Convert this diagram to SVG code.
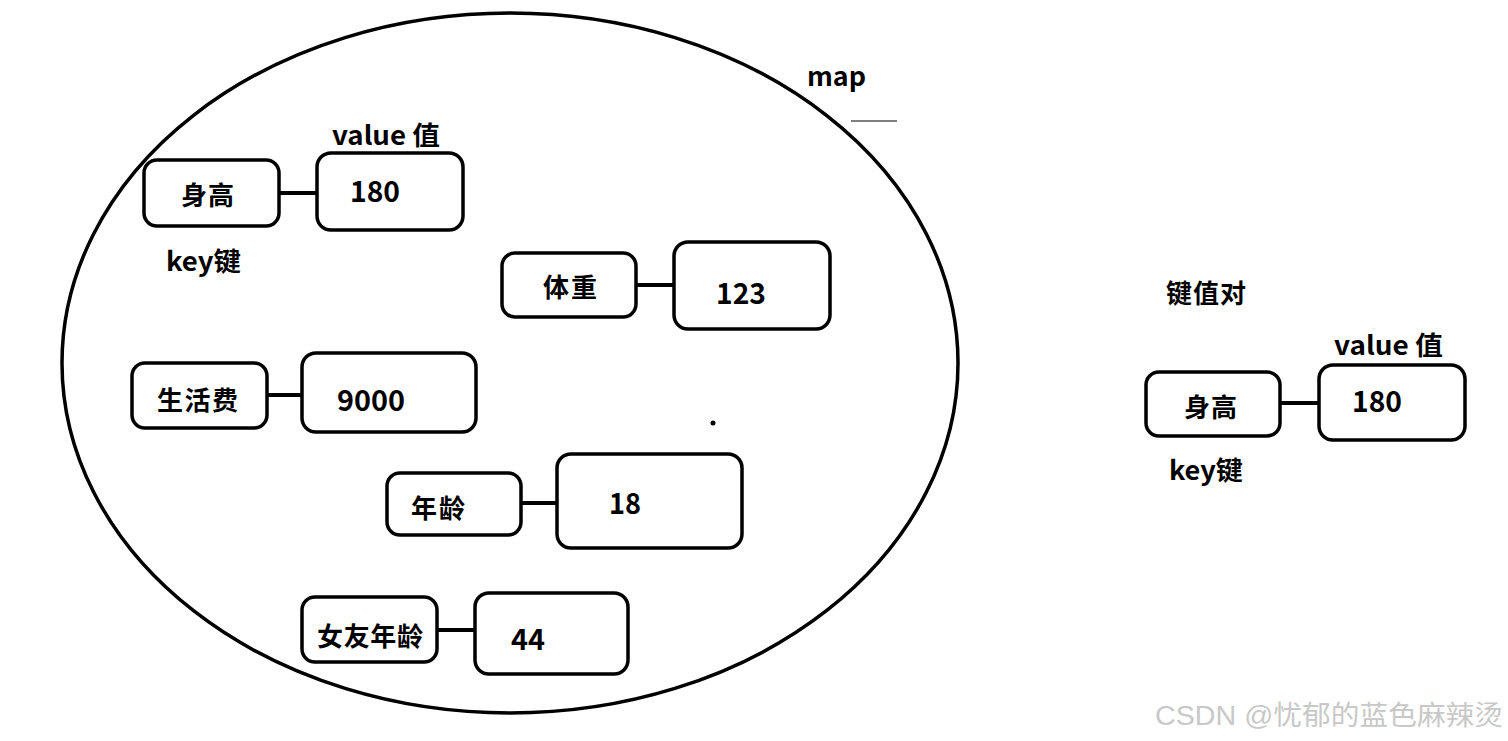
<svg xmlns="http://www.w3.org/2000/svg" width="1508" height="741" viewBox="0 0 1508 741">
<style>
.box{fill:#fff;stroke:#000;stroke-width:3.5}
.t{font-family:"Noto Sans CJK SC","Noto Sans",sans-serif;font-weight:bold;font-size:26px;fill:#000}
.n{font-size:29px}
.c{stroke:#000;stroke-width:4}
.wm{font-family:"Liberation Sans","Noto Sans CJK SC",sans-serif;font-size:27px;fill:#c8c8c8}
</style>
<rect width="1508" height="741" fill="#fff"/>
<g id="map">
<ellipse cx="510" cy="363" rx="448" ry="350" fill="none" stroke="#000" stroke-width="3.5"/>
<text class="t" x="807" y="86" textLength="59" lengthAdjust="spacingAndGlyphs">map</text>
<line x1="851" y1="121" x2="897" y2="121" stroke="#000" stroke-width="1"/>
<circle cx="713" cy="423" r="2.5" fill="#000"/>
</g>
<g id="connectors">
<line class="c" x1="279" y1="193" x2="317" y2="193"/>
<line class="c" x1="636" y1="285" x2="674" y2="285"/>
<line class="c" x1="267" y1="395" x2="302" y2="395"/>
<line class="c" x1="521" y1="503" x2="557" y2="503"/>
<line class="c" x1="437" y1="630" x2="475" y2="630"/>
<line class="c" x1="1280" y1="403" x2="1319" y2="403"/>
</g>
<g id="k1"><rect class="box" x="144" y="160" width="135" height="66" rx="13"/><text class="t" x="181" y="205" textLength="53">身高</text></g>
<g id="v1"><rect class="box" x="317" y="153" width="146" height="77" rx="14"/><text class="t n" x="350" y="202" textLength="50" lengthAdjust="spacingAndGlyphs">180</text></g>
<text class="t" x="332" y="145" textLength="108" lengthAdjust="spacingAndGlyphs">value 值</text>
<text class="t" x="166" y="271" textLength="75" lengthAdjust="spacingAndGlyphs">key键</text>
<g id="k2"><rect class="box" x="502" y="253" width="134" height="64" rx="13"/><text class="t" x="543" y="297" textLength="54">体重</text></g>
<g id="v2"><rect class="box" x="674" y="242" width="156" height="87" rx="14"/><text class="t n" x="716" y="304" textLength="50" lengthAdjust="spacingAndGlyphs">123</text></g>
<g id="k3"><rect class="box" x="132" y="363" width="135" height="65" rx="13"/><text class="t" x="157" y="410" textLength="81">生活费</text></g>
<g id="v3"><rect class="box" x="302" y="353" width="174" height="79" rx="14"/><text class="t n" x="337" y="411" textLength="68" lengthAdjust="spacingAndGlyphs">9000</text></g>
<g id="k4"><rect class="box" x="387" y="473" width="134" height="62" rx="13"/><text class="t" x="411" y="518" textLength="54">年龄</text></g>
<g id="v4"><rect class="box" x="557" y="454" width="185" height="94" rx="14"/><text class="t n" x="609" y="514" textLength="32" lengthAdjust="spacingAndGlyphs">18</text></g>
<g id="k5"><rect class="box" x="302" y="597" width="135" height="65" rx="13"/><text class="t" x="317" y="646" textLength="106">女友年龄</text></g>
<g id="v5"><rect class="box" x="475" y="593" width="153" height="81" rx="14"/><text class="t n" x="511" y="650" textLength="34" lengthAdjust="spacingAndGlyphs">44</text></g>
<text class="t" x="1166" y="303" textLength="80">键值对</text>
<g id="k6"><rect class="box" x="1146" y="372" width="134" height="64" rx="13"/><text class="t" x="1184" y="417" textLength="53">身高</text></g>
<g id="v6"><rect class="box" x="1319" y="365" width="146" height="75" rx="14"/><text class="t n" x="1352" y="412" textLength="50" lengthAdjust="spacingAndGlyphs">180</text></g>
<text class="t" x="1334" y="355" textLength="109" lengthAdjust="spacingAndGlyphs">value 值</text>
<text class="t" x="1169" y="480" textLength="74" lengthAdjust="spacingAndGlyphs">key键</text>
<text class="wm" x="1155" y="725" textLength="348" lengthAdjust="spacingAndGlyphs">CSDN @忧郁的蓝色麻辣烫</text>
</svg>
